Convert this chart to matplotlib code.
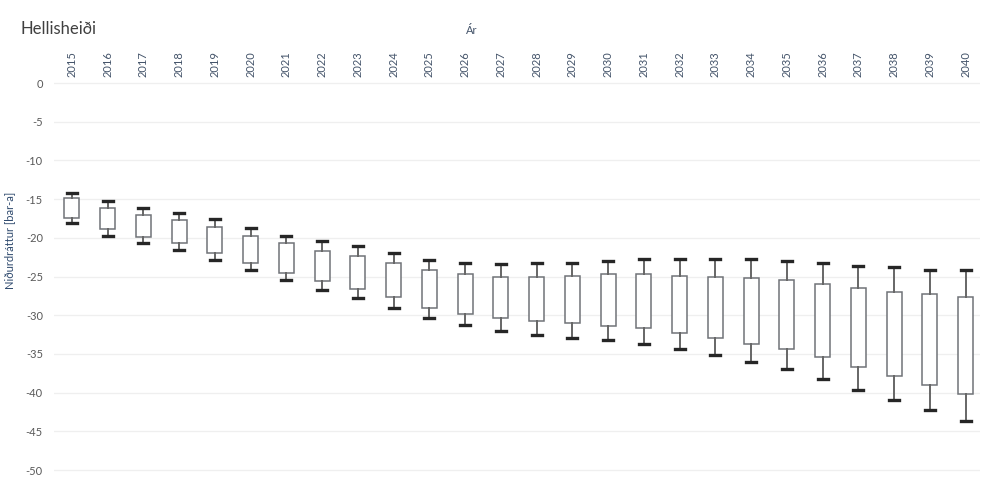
import matplotlib
matplotlib.use("Agg")
import matplotlib.pyplot as plt

# Yearly drawdown spread at Hellisheiði (bar-a)
years = list(range(2015, 2041))
whisker_high = [-14.2, -15.3, -16.2, -16.8, -17.6, -18.7, -19.8, -20.4, -21.1, -21.9,
                -22.8, -23.2, -23.4, -23.3, -23.2, -23.0, -22.7, -22.7, -22.7, -22.7,
                -23.0, -23.2, -23.6, -23.8, -24.1, -24.2]
box_top = [-14.9, -16.1, -17.0, -17.7, -18.6, -19.7, -20.7, -21.7, -22.3, -23.2,
           -24.2, -24.7, -25.0, -25.1, -24.9, -24.7, -24.7, -24.9, -25.1, -25.2,
           -25.5, -25.9, -26.5, -27.0, -27.3, -27.7]
box_bottom = [-17.4, -18.9, -19.9, -20.7, -21.9, -23.2, -24.5, -25.6, -26.6, -27.7,
              -29.0, -29.8, -30.4, -30.8, -31.0, -31.4, -31.7, -32.3, -32.9, -33.7,
              -34.4, -35.4, -36.7, -37.9, -39.0, -40.2]
whisker_low = [-18.1, -19.7, -20.6, -21.6, -22.9, -24.2, -25.5, -26.7, -27.8, -29.0,
               -30.3, -31.3, -32.0, -32.5, -32.9, -33.2, -33.7, -34.4, -35.2, -36.0,
               -37.0, -38.2, -39.6, -41.0, -42.2, -43.7]
y_ticks = [0, -5, -10, -15, -20, -25, -30, -35, -40, -45, -50]

plt.rcParams['font.family'] = ['Lato', 'DejaVu Sans']

fig = plt.figure(figsize=(9.84, 5.01), dpi=100)
ax = fig.add_axes([54 / 984, 1 - 485.5 / 501, (980 - 54) / 984, (485.5 - 80) / 501])

stats = []
for y, wh, q3, q1, wl in zip(years, whisker_high, box_top, box_bottom, whisker_low):
    stats.append(dict(label=str(y), med=q1, q1=q1, q3=q3, whislo=wl, whishi=wh, fliers=[]))

ax.bxp(stats, positions=years, widths=0.42, capwidths=0.28, patch_artist=True,
       showfliers=False,
       boxprops=dict(facecolor='white', edgecolor='#707378', linewidth=1.1),
       whiskerprops=dict(color='#666666', linewidth=1.4),
       capprops=dict(color='#262626', linewidth=2.4),
       medianprops=dict(linewidth=0))

ax.set_xlim(2014.5, 2040.4)
ax.set_ylim(-52, 0.4)
ax.set_yticks(y_ticks)
ax.set_yticklabels([str(v) for v in y_ticks])
ax.set_xticks(years)
ax.set_xticklabels([str(y) for y in years], rotation=90)

ax.xaxis.tick_top()
ax.tick_params(axis='x', length=0, pad=2, labelsize=8, labelcolor='#44546a')
ax.tick_params(axis='y', length=0, pad=8, labelsize=8, labelcolor='#595959')

ax.grid(axis='y', color='#efefef', linewidth=0.9)
ax.set_axisbelow(True)
for s in ax.spines.values():
    s.set_visible(False)

fig.text(21 / 984, 1 - 29 / 501, "Hellisheiði", fontsize=12, color='#404040',
         ha='left', va='center')
fig.text(472 / 984, 1 - 30 / 501, "Ár", fontsize=8, color='#44546a',
         ha='center', va='center')
fig.text(10 / 984, 1 - 240 / 501, "Niðurdráttur [bar-a]", fontsize=8, color='#2f4a6e',
         rotation=90, ha='center', va='center')

fig.savefig("out.png", dpi=100, facecolor='white')
